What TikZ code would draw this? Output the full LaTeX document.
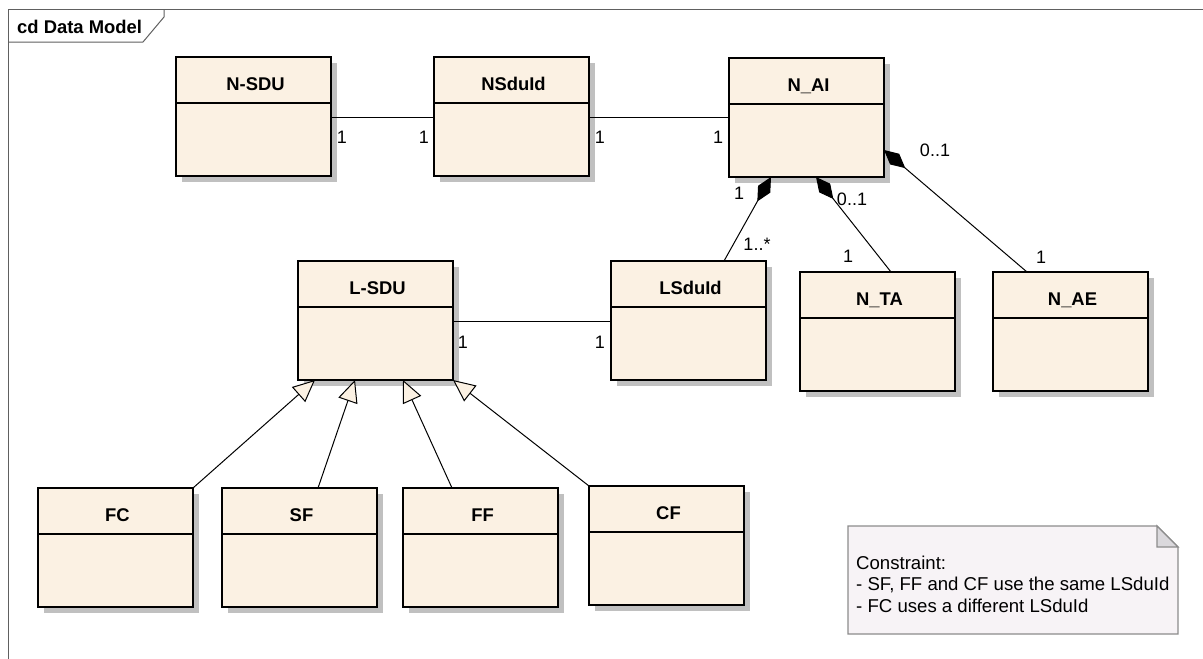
\documentclass[tikz,border=0pt]{standalone}
\usepackage{fontspec}
\setmainfont{Liberation Sans}
\usetikzlibrary{arrows.meta,calc,shadows}
\definecolor{boxfill}{RGB}{251,241,227}
\definecolor{shadowgray}{RGB}{192,192,192}
\definecolor{notefill}{RGB}{247,243,246}
\definecolor{noteline}{RGB}{140,140,140}
\definecolor{foldfill}{RGB}{218,216,220}
\definecolor{framecol}{RGB}{96,96,96}
\newcommand\umlclass[4]{%
  \node[classbox] (#1) at (#2,#3) {};
  \draw[divider] ($(#1.north west)+(0,46)$) -- ($(#1.north east)+(0,46)$);
  \node[classtitle] (#1t) at ($(#1.north)+(2,33)$) {#4};
}
\begin{document}
\begin{tikzpicture}[x=1pt,y=-1pt,
  classbox/.style={draw=black, line width=1.3pt, fill=boxfill, minimum width=155pt, minimum height=119pt,
    inner sep=0pt, outer sep=0pt, anchor=north west,
    drop shadow={shadow xshift=6pt, shadow yshift=-6pt, fill=shadowgray, opacity=1}},
  divider/.style={draw=black, line width=1.3pt},
  classtitle/.style={anchor=base, inner sep=0pt, font=\fontsize{18.4}{21}\selectfont\bfseries},
  mult/.style={inner sep=0pt, font=\fontsize{18}{21}\selectfont},
  assoc/.style={draw=black, line width=1pt},
  gen/.style={draw=black, line width=1pt, -{Triangle[length=22pt,width=20pt,fill=boxfill]}},
  comp/.style={draw=black, line width=1pt, -{Diamond[length=28pt,width=14pt]}},
]
\useasboundingbox (0,0) rectangle (1203,659);
\fill[white] (0,0) rectangle (1203,659);
% frame
\draw[framecol, line width=1pt] (8,659) -- (8,9) -- (1203,9);
\draw[framecol, line width=1pt] (8,42) -- (143,42) -- (164,17) -- (164,9);
\node[anchor=base west, inner sep=0pt, font=\fontsize{18.4}{21}\selectfont\bfseries] (frametitle) at (17,33) {cd Data Model};

% classes
\umlclass{NSDU}{176}{57}{N-SDU}
\umlclass{NSduId}{434}{57}{NSduId}
\umlclass{NAI}{729}{58}{N\_AI}
\umlclass{LSDU}{298}{261}{L-SDU}
\umlclass{LSduId}{611}{261}{LSduId}
\umlclass{NTA}{800}{272}{N\_TA}
\umlclass{NAE}{993}{272}{N\_AE}
\umlclass{FC}{38}{488}{FC}
\umlclass{SF}{222}{488}{SF}
\umlclass{FF}{403}{488}{FF}
\umlclass{CF}{589}{486}{CF}

% associations
\draw[assoc] ($(NSDU.north east)+(0,60)$) -- ($(NSduId.north west)+(0,60)$);
\draw[assoc] ($(NSduId.north east)+(0,60)$) -- ($(NAI.north west)+(0,59)$);
\draw[assoc] ($(LSDU.north east)+(0,60)$) -- ($(LSduId.north west)+(0,60)$);

% compositions
\draw[comp] ($(LSduId.north west)+(113,0)$) -- ($(NAI.south west)+(42,0)$);
\draw[comp] ($(NTA.north west)+(91,0)$) -- ($(NAI.south west)+(87,0)$);
\draw[comp] ($(NAE.north west)+(34,0)$) -- ($(NAI.north east)+(0,92)$);

% generalizations
\draw[gen] (FC.north east) -- ($(LSDU.south west)+(17,0)$);
\draw[gen] ($(SF.north west)+(96,0)$) -- ($(LSDU.south west)+(57,0)$);
\draw[gen] ($(FF.north west)+(49,0)$) -- ($(LSDU.south west)+(105,0)$);
\draw[gen] (CF.north west) -- (LSDU.south east);

% multiplicities
\node[mult] (m1) at (342,137) {1};
\node[mult] (m2) at (424,137) {1};
\node[mult] (m3) at (600,137) {1};
\node[mult] (m4) at (718,137) {1};
\node[mult] (m5) at (739,193) {1};
\node[mult] (m6) at (757,244) {1..*};
\node[mult] (m7) at (852,199) {0..1};
\node[mult] (m8) at (848,256) {1};
\node[mult] (m9) at (935,150) {0..1};
\node[mult] (m10) at (1041,257) {1};
\node[mult] (m11) at (463,342) {1};
\node[mult] (m12) at (600,342) {1};

% note
\draw[noteline, line width=1.3pt, fill=notefill] (848,526) -- (1157,526) -- (1178,547) -- (1178,634) -- (848,634) -- cycle;
\draw[noteline, line width=1.3pt, fill=foldfill] (1157,526) -- (1157,547) -- (1178,547) -- cycle;
\node[anchor=north west, align=left, inner sep=0pt, font=\fontsize{18.6}{21.8}\selectfont] (notetext) at (856,555.5)
  {Constraint:\\- SF, FF and CF use the same LSduId\\- FC uses a different LSduId};
\end{tikzpicture}
\end{document}
